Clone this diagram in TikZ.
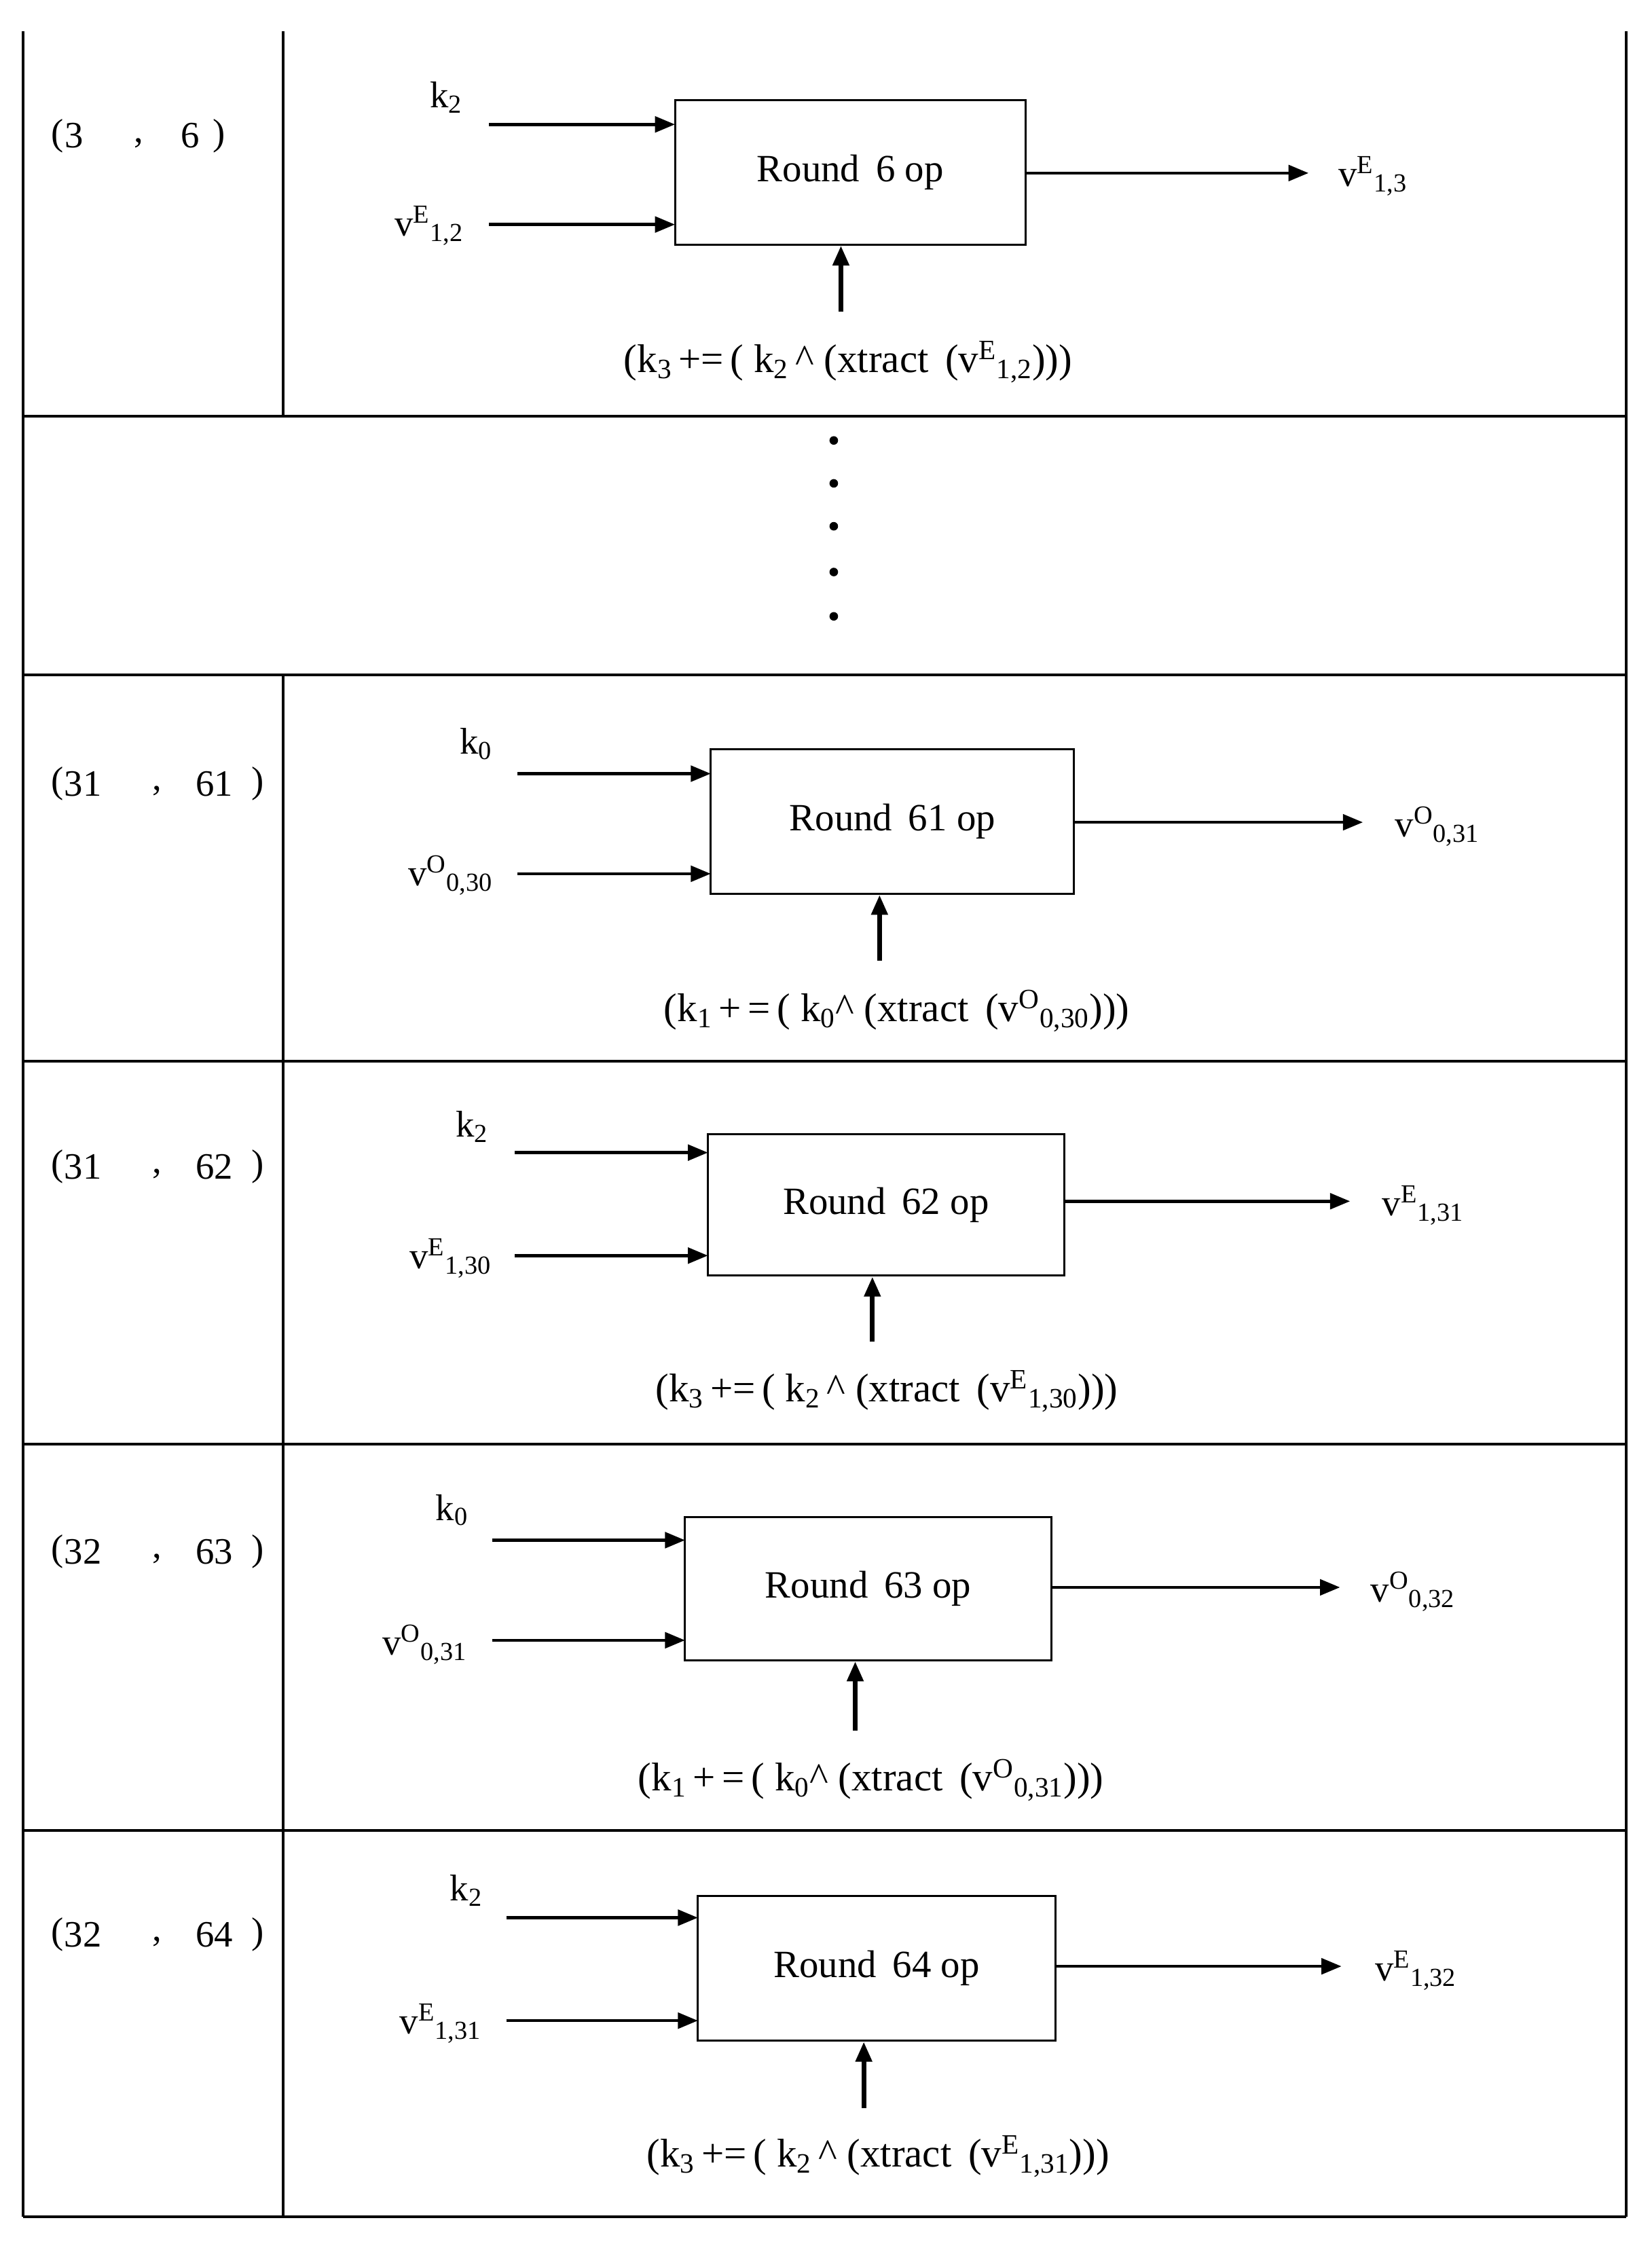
\documentclass[tikz,border=0pt]{standalone}
\usepackage{fontspec}
\setmainfont{Liberation Serif}
\usetikzlibrary{arrows.meta}
\begin{document}
\begin{tikzpicture}[x=1pt,y=-1pt,
  grid/.style={line width=1.8pt},
  box/.style={draw,line width=1.4pt,inner sep=0pt,font=\fontsize{27}{30}\selectfont},
  lab/.style={font=\fontsize{26}{28}\selectfont,inner sep=0pt},
  blab/.style={font=\fontsize{28}{30}\selectfont,inner sep=0pt},
  arr/.style={line width=2.2pt,-{Triangle[length=14pt,width=11pt]}},
  uarr/.style={line width=3.4pt,-{Triangle[length=14pt,width=11pt]}},
  dot/.style={circle,fill,inner sep=0pt,minimum size=6pt}]
\useasboundingbox (0,0) rectangle (1155,1572);
% table
\coordinate (tl) at (16,22); \coordinate (tr) at (1137,22);
\coordinate (bl) at (16,1550); \coordinate (br) at (1137,1550);
\draw[grid] (tl) -- (bl) (tr) -- (br);
\foreach \y in {291,472,742,1010,1280,1550} \draw[grid] (16,\y) -- (1137,\y);
\draw[grid] (198,22) -- (198,291);
\draw[grid] (198,472) -- (198,1550);
% dots
\foreach \y [count=\i] in {308,338,368,400,431} \node[dot] (d\i) at (583,\y) {};
% Row 1
\node[lab] (l1a) at (40,95) {(};\node[lab] (l1b) at (52,95) {3};\node[lab] (l1c) at (97,100) {,};\node[lab] (l1d) at (133,95) {6};\node[lab] (l1e) at (153,95) {)};
\node[box,minimum width=245pt,minimum height=101pt] (b1) at (594.5,120.5) {Round\, 6 op};
\node[lab] (k1) at (312,68) {k\textsubscript{2}};
\node[lab] (v1) at (300,158) {v\textsuperscript{E}\textsubscript{1,2}};
\node[lab] (o1) at (960,123) {v\textsuperscript{E}\textsubscript{1,3}};
\node[blab] (t1) at (593,253) {(k\textsubscript{3}\,+=\,( k\textsubscript{2}\,\textasciicircum\ (xtract\, (v\textsuperscript{E}\textsubscript{1,2})))};
\coordinate (k1s) at (342,87); \coordinate (k1e) at (472,87);
\coordinate (v1s) at (342,157); \coordinate (v1e) at (472,157);
\coordinate (o1e) at (915,121); \coordinate (u1s) at (588,218);
\draw[arr] (k1s) -- (k1e); \draw[arr] (v1s) -- (v1e);
\draw[arr] (b1.east |- o1e) -- (o1e); \draw[uarr] (u1s) -- (b1.south -| u1s);
% Row 2 (31,61)
\node[lab] (l2a) at (40,548) {(};\node[lab] (l2b) at (58,548) {31};\node[lab] (l2c) at (110,553) {,};\node[lab] (l2d) at (150,548) {61};\node[lab] (l2e) at (180,548) {)};
\node[box,minimum width=254pt,minimum height=101pt] (b2) at (624,574.5) {Round\, 61 op};
\node[lab] (k2) at (333,520) {k\textsubscript{0}};
\node[lab] (v2) at (315,612) {v\textsuperscript{O}\textsubscript{0,30}};
\node[lab] (o2) at (1005,578) {v\textsuperscript{O}\textsubscript{0,31}};
\node[blab] (t2) at (627,707) {(k\textsubscript{1}\,+\,=\,( k\textsubscript{0}\textasciicircum\ (xtract\, (v\textsuperscript{O}\textsubscript{0,30})))};
\coordinate (k2s) at (362,541); \coordinate (k2e) at (497,541);
\coordinate (v2s) at (362,611); \coordinate (v2e) at (497,611);
\coordinate (o2e) at (953,575); \coordinate (u2s) at (615,672);
\draw[arr] (k2s) -- (k2e); \draw[arr] (v2s) -- (v2e);
\draw[arr] (b2.east |- o2e) -- (o2e); \draw[uarr] (u2s) -- (b2.south -| u2s);
% Row 3 (31,62)
\node[lab] (l3a) at (40,816) {(};\node[lab] (l3b) at (58,816) {31};\node[lab] (l3c) at (110,821) {,};\node[lab] (l3d) at (150,816) {62};\node[lab] (l3e) at (180,816) {)};
\node[box,minimum width=249pt,minimum height=99pt] (b3) at (619.5,842.5) {Round\, 62 op};
\node[lab] (k3) at (330,788) {k\textsubscript{2}};
\node[lab] (v3) at (315,880) {v\textsuperscript{E}\textsubscript{1,30}};
\node[lab] (o3) at (995,843) {v\textsuperscript{E}\textsubscript{1,31}};
\node[blab] (t3) at (620,973) {(k\textsubscript{3}\,+=\,( k\textsubscript{2}\,\textasciicircum\ (xtract\, (v\textsuperscript{E}\textsubscript{1,30})))};
\coordinate (k3s) at (360,806); \coordinate (k3e) at (495,806);
\coordinate (v3s) at (360,878); \coordinate (v3e) at (495,878);
\coordinate (o3e) at (944,840); \coordinate (u3s) at (610,938);
\draw[arr] (k3s) -- (k3e); \draw[arr] (v3s) -- (v3e);
\draw[arr] (b3.east |- o3e) -- (o3e); \draw[uarr] (u3s) -- (b3.south -| u3s);
% Row 4 (32,63)
\node[lab] (l4a) at (40,1085) {(};\node[lab] (l4b) at (58,1085) {32};\node[lab] (l4c) at (110,1090) {,};\node[lab] (l4d) at (150,1085) {63};\node[lab] (l4e) at (180,1085) {)};
\node[box,minimum width=256pt,minimum height=100pt] (b4) at (607,1111) {Round\, 63 op};
\node[lab] (k4) at (316,1056) {k\textsubscript{0}};
\node[lab] (v4) at (297,1150) {v\textsuperscript{O}\textsubscript{0,31}};
\node[lab] (o4) at (988,1113) {v\textsuperscript{O}\textsubscript{0,32}};
\node[blab] (t4) at (609,1245) {(k\textsubscript{1}\,+\,=\,( k\textsubscript{0}\textasciicircum\ (xtract\, (v\textsuperscript{O}\textsubscript{0,31})))};
\coordinate (k4s) at (344,1077); \coordinate (k4e) at (479,1077);
\coordinate (v4s) at (344,1147); \coordinate (v4e) at (479,1147);
\coordinate (o4e) at (937,1110); \coordinate (u4s) at (598,1210);
\draw[arr] (k4s) -- (k4e); \draw[arr] (v4s) -- (v4e);
\draw[arr] (b4.east |- o4e) -- (o4e); \draw[uarr] (u4s) -- (b4.south -| u4s);
% Row 5 (32,64)
\node[lab] (l5a) at (40,1353) {(};\node[lab] (l5b) at (58,1353) {32};\node[lab] (l5c) at (110,1358) {,};\node[lab] (l5d) at (150,1353) {64};\node[lab] (l5e) at (180,1353) {)};
\node[box,minimum width=250pt,minimum height=101pt] (b5) at (613,1376.5) {Round\, 64 op};
\node[lab] (k5) at (326,1322) {k\textsubscript{2}};
\node[lab] (v5) at (308,1415) {v\textsuperscript{E}\textsubscript{1,31}};
\node[lab] (o5) at (990,1378) {v\textsuperscript{E}\textsubscript{1,32}};
\node[blab] (t5) at (614,1508) {(k\textsubscript{3}\,+=\,( k\textsubscript{2}\,\textasciicircum\ (xtract\, (v\textsuperscript{E}\textsubscript{1,31})))};
\coordinate (k5s) at (354,1341); \coordinate (k5e) at (488,1341);
\coordinate (v5s) at (354,1413); \coordinate (v5e) at (488,1413);
\coordinate (o5e) at (938,1375); \coordinate (u5s) at (604,1474);
\draw[arr] (k5s) -- (k5e); \draw[arr] (v5s) -- (v5e);
\draw[arr] (b5.east |- o5e) -- (o5e); \draw[uarr] (u5s) -- (b5.south -| u5s);
\end{tikzpicture}
\end{document}
